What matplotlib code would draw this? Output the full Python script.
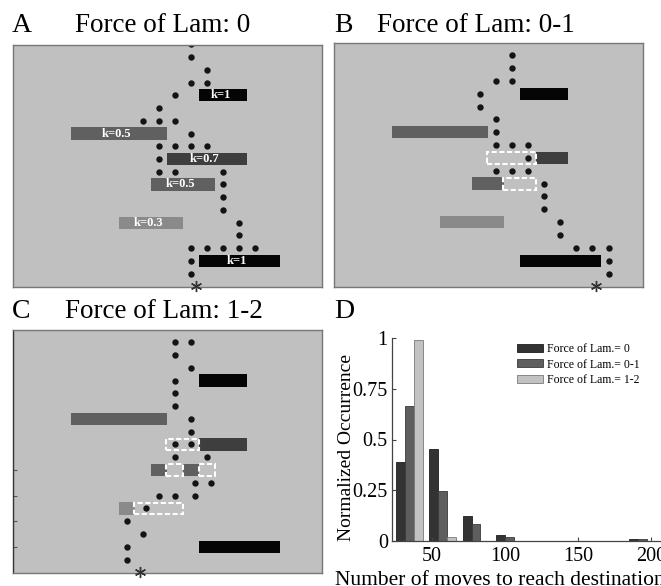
import numpy as np
import matplotlib
matplotlib.use('Agg')
import matplotlib.pyplot as plt
from matplotlib.patches import Rectangle

plt.rcParams['font.family'] = ['Liberation Serif', 'DejaVu Serif']

# obstacle bars shared by the three grid panels (row, first cell, last cell, stiffness k)
bar_row = [15, 12, 10, 8, 5, 2]
bar_first = [12, 4, 10, 9, 7, 12]
bar_last = [14, 9, 14, 12, 10, 16]
bar_k = [1, 0.5, 0.7, 0.5, 0.3, 1]
k_shade = {1: '#050505', 0.7: '#3e3e3e', 0.5: '#606060', 0.3: '#8a8a8a'}

# cells pushed away by the force of Lam: (row, first cell, last cell)
removed_b = [(10, 10, 12), (8, 11, 12)]
removed_c = [(10, 10, 11), (8, 10, 10), (8, 12, 12), (5, 8, 10)]

# steps of the walker (column, row)
a_col = [11, 11, 12, 11, 12, 10, 9, 8, 9, 10, 11, 9, 10, 11, 12, 9, 9, 10, 13,
         13, 13, 13, 14, 14, 11, 12, 13, 14, 15, 11, 11]
a_row = [19, 18, 17, 16, 16, 15, 14, 13, 13, 13, 12, 11, 11, 11, 11, 10, 9, 9, 9,
         8, 7, 6, 5, 4, 3, 3, 3, 3, 3, 2, 1]
b_col = [11, 11, 10, 11, 9, 9, 10, 10, 10, 11, 12, 12, 10, 11, 12, 13, 13, 13,
         14, 14, 15, 16, 17, 17, 17]
b_row = [18, 17, 16, 16, 15, 14, 13, 12, 11, 11, 11, 10, 9, 9, 9, 8, 7, 6,
         5, 4, 3, 3, 3, 2, 1]
c_col = [10, 11, 10, 11, 10, 10, 10, 11, 11, 10, 11, 10, 12, 11.2, 12.2, 9, 10, 11.2,
         8.2, 7, 8, 7, 7]
c_row = [18, 18, 17, 16, 15, 14, 13, 12, 11, 10, 10, 9, 9, 7, 7, 6, 6, 6,
         5, 4, 3, 2, 1]
start_col = {'A': 11.3, 'B': 16.2, 'C': 7.8}

# panel D histogram
bin_centers = np.array([34.5, 57.4, 80.2, 103.1, 126.0, 148.8, 171.7, 194.5])
occ_0 = [0.39, 0.453, 0.123, 0.031, 0, 0, 0, 0.011]
occ_01 = [0.665, 0.245, 0.082, 0.02, 0, 0, 0, 0.011]
occ_12 = [0.99, 0.02, 0, 0, 0, 0, 0, 0]
d_labels = ['Force of Lam.= 0', 'Force of Lam.= 0-1', 'Force of Lam.= 1-2']

W, H = 661, 586
fig = plt.figure(figsize=(W / 100, H / 100), dpi=100)


def px_box(x0, y0, x1, y1):
    # pixel box (top-left origin) -> figure fraction rect
    return [x0 / W, 1 - y1 / H, (x1 - x0) / W, (y1 - y0) / H]


def runs(cells):
    out = []
    for c in sorted(cells):
        if out and c == out[-1][1] + 1:
            out[-1][1] = c
        else:
            out.append([c, c])
    return out


def draw_grid(ax, cols, rows, key, removed, labels):
    ax.set_facecolor('#c0c0c0')
    for r, c0, c1, k in zip(bar_row, bar_first, bar_last, bar_k):
        gone = [cc for rr, a, b in removed if rr == r for cc in range(a, b + 1)]
        keep = [cc for cc in range(c0, c1 + 1) if cc not in gone]
        for a, b in runs(keep):
            ax.barh(r, b - a + 1, left=a - 0.5, height=0.96, color=k_shade[k], lw=0)
        if labels:
            ax.text((c0 + c1) / 2 - 0.15, r, f'k={k:g}', color='white', fontsize=9,
                    fontweight='bold', ha='center', va='center')
    for r, a, b in removed:
        ax.add_patch(Rectangle((a - 0.55, r - 0.46), b - a + 1.05, 0.92, fill=False,
                               ec='white', lw=1.5, ls=(0, (2.5, 1.2))))
    ax.plot(cols, rows, 'o', color='#141414', ms=4.6, mew=0)
    ax.plot(start_col[key], 0.05, marker=(6, 2, 0), ms=8, mew=1.0, color='#333333',
            clip_on=False, zorder=5)
    ax.set_xlim(-0.12, 19.15)
    ax.set_ylim(-0.05, 18.95)
    ax.set_xticks([])
    ax.set_yticks([])
    for s in ax.spines.values():
        s.set_color('#777777')
        s.set_linewidth(1.0)


ax_a = fig.add_axes(px_box(13, 45, 322, 287))
draw_grid(ax_a, a_col, a_row, 'A', [], True)
ax_b = fig.add_axes(px_box(334, 43, 643, 287))
draw_grid(ax_b, b_col, b_row, 'B', removed_b, False)
ax_c = fig.add_axes(px_box(13, 330, 322, 573))
draw_grid(ax_c, c_col, c_row, 'C', removed_c, False)
ax_c.spines['left'].set_color('#333333')
ax_c.set_yticks([2, 4, 6, 8])
ax_c.set_yticklabels([])
ax_c.tick_params(axis='y', direction='in', length=3, color='#555555', width=0.8)

# panel letters and titles
for letter, lx, tx, y, title in [('A', 12, 75, 32, 'Force of Lam: 0'),
                                  ('B', 334, 377, 32, 'Force of Lam: 0-1'),
                                  ('C', 12, 65, 318, 'Force of Lam: 1-2'),
                                  ('D', 334, None, 318, None)]:
    fig.text(lx / W, 1 - y / H, letter, fontsize=20, va='baseline', ha='left')
    if title:
        fig.text(tx / W, 1 - y / H, title, fontsize=19.5, va='baseline', ha='left')

# panel D
ax_d = fig.add_axes(px_box(392, 338, 680, 541))
w = 22.86 * 0.8 / 3
ax_d.bar(bin_centers - w, occ_0, w, color='#333333', edgecolor='#1e1e1e', lw=0.6, label=d_labels[0])
ax_d.bar(bin_centers, occ_01, w, color='#5e5e5e', edgecolor='#3a3a3a', lw=0.6, label=d_labels[1])
ax_d.bar(bin_centers + w, occ_12, w, color='#c2c2c2', edgecolor='#7a7a7a', lw=0.6, label=d_labels[2])
ax_d.set_xlim(22.6, 220)
ax_d.set_ylim(0, 1)
ax_d.set_xticks([50, 100, 150, 200])
ax_d.set_yticks([0, 0.25, 0.5, 0.75, 1])
ax_d.set_yticklabels(['0', '0.25', '0.5', '0.75', '1'])
ax_d.tick_params(direction='in', length=3, labelsize=14.5, color='#444444', width=0.8)
ax_d.tick_params(axis='x', pad=4)
ax_d.tick_params(axis='y', pad=3)
ax_d.spines['top'].set_visible(False)
ax_d.spines['right'].set_visible(False)
for s in ('left', 'bottom'):
    ax_d.spines[s].set_color('#444444')
    ax_d.spines[s].set_linewidth(0.9)
ax_d.set_ylabel('Normalized Occurrence', fontsize=14)
ax_d.yaxis.set_label_coords(-0.13, 0.46)
ax_d.set_xlabel('Number of moves to reach destination', fontsize=15.5, ha='left')
ax_d.xaxis.set_label_coords((335 - 392) / 288, -0.148)
ax_d.legend(loc='upper left', bbox_to_anchor=(517 / W, 1 - 343 / H), bbox_transform=fig.transFigure,
            frameon=False, fontsize=8.5, handlelength=2.2, handleheight=0.65, handletextpad=0.35,
            labelspacing=0.3, borderpad=0, borderaxespad=0)

fig.savefig('out.png', dpi=100)
